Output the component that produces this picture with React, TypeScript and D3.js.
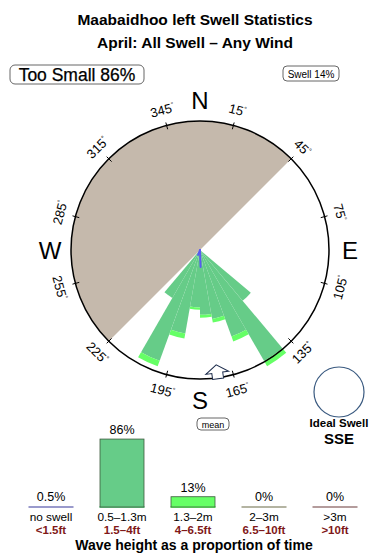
import React from "react";
import * as d3 from "d3";

// Swell rose: direction bins (degrees, 10° wide) with frequency per height class
const DIRECTIONS = [135, 145, 155, 165, 175, 185, 195, 205, 215];
const SMALL_SWELL = [9.0, 17.4, 12.5, 9.5, 8.8, 7.8, 11.5, 16.0, 7.5]; // 0.5–1.3m
const MEDIUM_SWELL = [0, 0.8, 0.7, 0.5, 0.4, 0.3, 0.7, 0.8, 0]; // 1.3–2m
const NO_SWELL_DIRS = [178, 202];
const NO_SWELL_VALUES = [2.3, 0.7];
const MEAN_DIRECTION = 172;
const LAND_FROM = 225;
const LAND_TO = 405;

const TICK_BEARINGS = [15, 45, 75, 105, 135, 165, 195, 225, 255, 285, 315, 345];
const CARDINALS = ["N", "E", "S", "W"];
const CARDINAL_BEARINGS = [0, 90, 180, 270];

// Height class summary
const CATEGORIES = ["no swell", "0.5–1.3m", "1.3–2m", "2–3m", ">3m"];
const CATEGORY_FEET = ["<1.5ft", "1.5–4ft", "4–6.5ft", "6.5–10ft", ">10ft"];
const CATEGORY_PCT = [0.5, 86, 13, 0, 0];
const CATEGORY_LABELS = ["0.5%", "86%", "13%", "0%", "0%"];
const CATEGORY_COLORS = ["#9a9acc", "#66cc88", "#66ff66", "#b4b4a2", "#b49c9c"];

const FONT = "'Liberation Sans', Arial, Helvetica, sans-serif";

export default function App() {
  const cx = 200;
  const cy = 250;
  const R = 129;
  const rad = (deg: number) => (deg * Math.PI) / 180;

  const r = d3.scaleLinear().domain([0, 17.5]).range([0, R]);
  const arc = d3.arc<any>();

  const x = d3.scalePoint<string>().domain(CATEGORIES).range([51, 335]);
  const y = d3.scaleLinear().domain([0, 100]).range([507, 428]);
  const barW = 44;

  const polar = (bearing: number, radius: number) => [
    cx + radius * Math.sin(rad(bearing)),
    cy - radius * Math.cos(rad(bearing)),
  ];

  const arrowPts = [
    [0, -116],
    [11.5, -124],
    [5.5, -124],
    [5.5, -130],
    [-5.5, -130],
    [-5.5, -124],
    [-11.5, -124],
  ]
    .map((p) => p.join(","))
    .join(" ");

  return (
    <svg
      width={390}
      height={560}
      viewBox="0 0 390 560"
      style={{ position: "absolute", left: 0, top: 0, display: "block", background: "#fff" }}
      fontFamily={FONT}
    >
      <rect x={0} y={0} width={390} height={560} fill="#fff" />

      {/* Titles */}
      <text x={195} y={25} textAnchor="middle" fontSize={15.5} fontWeight="bold">
        Maabaidhoo left Swell Statistics
      </text>
      <text x={195} y={48} textAnchor="middle" fontSize={15.5} fontWeight="bold">
        April: All Swell – Any Wind
      </text>

      {/* Summary boxes */}
      <rect x={10} y={65} width={134} height={19} rx={5} fill="#fff" stroke="#555" strokeWidth={0.9} />
      <text x={77} y={80.5} textAnchor="middle" fontSize={17.5} stroke="#000" strokeWidth={0.25}>
        Too Small 86%
      </text>
      <rect x={283} y={66} width={56} height={15} rx={4} fill="#fff" stroke="#555" strokeWidth={0.9} />
      <text x={311} y={77.5} textAnchor="middle" fontSize={10}>
        Swell 14%
      </text>

      {/* Rose */}
      <g transform={`translate(${cx},${cy})`}>
        <path
          d={arc({ innerRadius: 0, outerRadius: R, startAngle: rad(LAND_FROM), endAngle: rad(LAND_TO) }) || ""}
          fill="#c5b9ac"
        />
        {DIRECTIONS.map((dir, i) => (
          <g key={dir}>
            <path
              d={
                arc({
                  innerRadius: 0,
                  outerRadius: r(SMALL_SWELL[i]),
                  startAngle: rad(dir - 5),
                  endAngle: rad(dir + 5),
                }) || ""
              }
              fill="#66cc88"
            />
            {MEDIUM_SWELL[i] > 0 && (
              <path
                d={
                  arc({
                    innerRadius: r(SMALL_SWELL[i]),
                    outerRadius: r(SMALL_SWELL[i] + MEDIUM_SWELL[i]),
                    startAngle: rad(dir - 5),
                    endAngle: rad(dir + 5),
                  }) || ""
                }
                fill="#66ff66"
              />
            )}
          </g>
        ))}
        {NO_SWELL_DIRS.map((dir, i) => (
          <line
            key={dir}
            x1={0}
            y1={0}
            x2={r(NO_SWELL_VALUES[i]) * Math.sin(rad(dir))}
            y2={-r(NO_SWELL_VALUES[i]) * Math.cos(rad(dir))}
            stroke="#5a5af0"
            strokeWidth={2}
            strokeLinecap="round"
          />
        ))}
        <circle r={R} fill="none" stroke="#000" strokeWidth={1.5} />
        {TICK_BEARINGS.map((b) => (
          <line
            key={b}
            x1={(R - 4) * Math.sin(rad(b))}
            y1={-(R - 4) * Math.cos(rad(b))}
            x2={(R + 3) * Math.sin(rad(b))}
            y2={-(R + 3) * Math.cos(rad(b))}
            stroke="#000"
            strokeWidth={1}
          />
        ))}
        <g transform={`rotate(${MEAN_DIRECTION})`}>
          <polygon points={arrowPts} fill="#fff" stroke="#1c2c4c" strokeWidth={1} />
        </g>
      </g>

      {TICK_BEARINGS.map((b) => {
        const [tx, ty] = polar(b, 145);
        const rot = b > 90 && b < 270 ? b - 180 : b > 180 ? b - 360 : b;
        return (
          <text
            key={b}
            transform={`translate(${tx},${ty}) rotate(${rot})`}
            textAnchor="middle"
            dy="0.36em"
            fontSize={13}
          >
            {b}
            <tspan fontSize={7} dy={-5}>
              °
            </tspan>
          </text>
        );
      })}

      {CARDINALS.map((c, i) => {
        const [tx, ty] = polar(CARDINAL_BEARINGS[i], 150);
        return (
          <text key={c} x={tx} y={ty} dy="0.36em" textAnchor="middle" fontSize={24}>
            {c}
          </text>
        );
      })}

      {/* Mean label */}
      <rect x={197} y={418} width={32} height={12} rx={4} fill="#fff" stroke="#555" strokeWidth={0.9} />
      <text x={213} y={427.5} textAnchor="middle" fontSize={9}>
        mean
      </text>

      {/* Ideal swell */}
      <circle cx={339} cy={392} r={25} fill="#fff" stroke="#3a5a80" strokeWidth={1.2} />
      <text x={339} y={427} textAnchor="middle" fontSize={11.5} fontWeight="bold">
        Ideal Swell
      </text>
      <text x={339} y={443.5} textAnchor="middle" fontSize={15} fontWeight="bold">
        SSE
      </text>

      {/* Height class bars */}
      {CATEGORIES.map((c, i) => {
        const xc = x(c) as number;
        const v = CATEGORY_PCT[i];
        const top = y(v);
        return (
          <g key={c}>
            <line x1={xc - 22.5} x2={xc + 22.5} y1={507} y2={507} stroke={CATEGORY_COLORS[i]} strokeWidth={2} />
            {v >= 5 && (
              <rect
                x={xc - barW / 2}
                y={top}
                width={barW}
                height={y(0) - top}
                fill={CATEGORY_COLORS[i]}
                stroke="#3c5a3c"
                strokeWidth={0.8}
              />
            )}
            <text x={xc} y={Math.min(top, 506) - 5} textAnchor="middle" fontSize={12.5}>
              {CATEGORY_LABELS[i]}
            </text>
            <text x={xc} y={520.5} textAnchor="middle" fontSize={11.8}>
              {c}
            </text>
            <text x={xc} y={533.5} textAnchor="middle" fontSize={11.5} fontWeight="bold" fill="#801818">
              {CATEGORY_FEET[i]}
            </text>
          </g>
        );
      })}
      <text x={194} y={549.5} textAnchor="middle" fontSize={14} fontWeight="bold">
        Wave height as a proportion of time
      </text>
    </svg>
  );
}
